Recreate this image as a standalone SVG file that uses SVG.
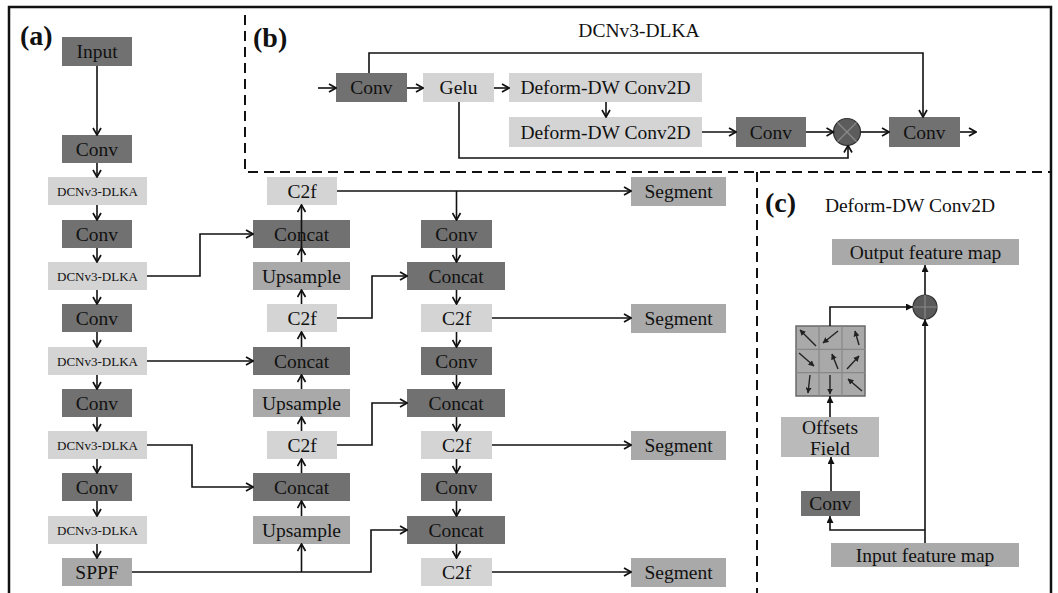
<svg xmlns="http://www.w3.org/2000/svg" width="1058" height="593" viewBox="0 0 1058 593">
<defs>
<style>
text{font-family:"Liberation Serif","Times New Roman",serif;fill:#111;text-anchor:middle}
.t{font-size:19.5px}
.s{font-size:13px}
.lab{font-size:28px;font-weight:bold;text-anchor:start}
.dk{fill:#717171}
.lt{fill:#d4d4d4}
.md{fill:#a9a9a9}
.of{fill:#bababa}
.ln{fill:none;stroke:#111;stroke-width:1.6}
.ar{fill:none;stroke:#111;stroke-width:1.6;marker-end:url(#chev)}
.ac{fill:none;stroke:#111;stroke-width:1.6;marker-end:url(#tri)}
.dash{fill:none;stroke:#111;stroke-width:2;stroke-dasharray:10 6}
.ga{stroke:#222;stroke-width:1.4;marker-end:url(#gtri)}
</style>
<marker id="chev" viewBox="0 0 10 10" refX="9" refY="5" markerWidth="10" markerHeight="10" markerUnits="userSpaceOnUse" orient="auto">
<path d="M2,1 L9,5 L2,9" fill="none" stroke="#111" stroke-width="1.7"/>
</marker>
<marker id="tri" viewBox="0 0 10 10" refX="10" refY="5" markerWidth="7" markerHeight="7" markerUnits="userSpaceOnUse" orient="auto">
<path d="M0,0 L10,5 L0,10 z" fill="#111"/>
</marker>
<marker id="gtri" viewBox="0 0 10 10" refX="9" refY="5" markerWidth="6" markerHeight="6" markerUnits="userSpaceOnUse" orient="auto">
<path d="M0,0 L10,5 L0,10 z" fill="#222"/>
</marker>
</defs>
<rect width="1058" height="593" fill="#ffffff"/>
<path d="M9,600 L9,7 L1051,7 L1051,600" fill="none" stroke="#111" stroke-width="2.5"/>
<g id="frames">
<path class="dash" d="M245,15 L245,172 L1051,172"/>
<path class="dash" d="M757,172 L757,593"/>
<text class="lab" x="20" y="45">(a)</text>
<text class="lab" x="253" y="47">(b)</text>
<text class="lab" x="765" y="212">(c)</text>
<text class="t" x="639" y="37">DCNv3-DLKA</text>
<text class="t" x="910" y="212">Deform-DW Conv2D</text>
</g>
<!-- panel (a) left column -->
<g id="a-input"><rect class="dk" x="62" y="37" width="70" height="29"/><text class="t" x="97" y="58">Input</text></g>
<g id="a-conv0"><rect class="dk" x="62" y="135" width="70" height="28"/><text class="t" x="97" y="155.5">Conv</text></g>
<g id="a-dlka1"><rect class="lt" x="48" y="177" width="99" height="28"/><text class="s" x="97.5" y="195.5">DCNv3-DLKA</text></g>
<g id="a-conv2"><rect class="dk" x="62" y="220" width="70" height="28"/><text class="t" x="97" y="240.5">Conv</text></g>
<g id="a-dlka3"><rect class="lt" x="48" y="262" width="99" height="28"/><text class="s" x="97.5" y="280.5">DCNv3-DLKA</text></g>
<g id="a-conv4"><rect class="dk" x="62" y="304" width="70" height="28"/><text class="t" x="97" y="324.5">Conv</text></g>
<g id="a-dlka5"><rect class="lt" x="48" y="347" width="99" height="28"/><text class="s" x="97.5" y="365.5">DCNv3-DLKA</text></g>
<g id="a-conv6"><rect class="dk" x="62" y="389" width="70" height="28"/><text class="t" x="97" y="409.5">Conv</text></g>
<g id="a-dlka7"><rect class="lt" x="48" y="431" width="99" height="28"/><text class="s" x="97.5" y="449.5">DCNv3-DLKA</text></g>
<g id="a-conv8"><rect class="dk" x="62" y="473" width="70" height="28"/><text class="t" x="97" y="493.5">Conv</text></g>
<g id="a-dlka9"><rect class="lt" x="48" y="516" width="99" height="28"/><text class="s" x="97.5" y="534.5">DCNv3-DLKA</text></g>
<g id="a-sppf"><rect class="md" x="62" y="558" width="70" height="28"/><text class="t" x="97" y="578.5">SPPF</text></g>
<!-- middle column -->
<g id="m-c2f1"><rect class="lt" x="267" y="177" width="70" height="28"/><text class="t" x="302" y="197.5">C2f</text></g>
<g id="m-concat2"><rect class="dk" x="253" y="220" width="97" height="28"/><text class="t" x="301.5" y="240.5">Concat</text></g>
<g id="m-up3"><rect class="md" x="253" y="262" width="97" height="28"/><text class="t" x="301.5" y="282.5">Upsample</text></g>
<g id="m-c2f4"><rect class="lt" x="267" y="304" width="70" height="28"/><text class="t" x="302" y="324.5">C2f</text></g>
<g id="m-concat5"><rect class="dk" x="253" y="347" width="97" height="28"/><text class="t" x="301.5" y="367.5">Concat</text></g>
<g id="m-up6"><rect class="md" x="253" y="389" width="97" height="28"/><text class="t" x="301.5" y="409.5">Upsample</text></g>
<g id="m-c2f7"><rect class="lt" x="267" y="431" width="70" height="28"/><text class="t" x="302" y="451.5">C2f</text></g>
<g id="m-concat8"><rect class="dk" x="253" y="473" width="97" height="28"/><text class="t" x="301.5" y="493.5">Concat</text></g>
<g id="m-up9"><rect class="md" x="253" y="516" width="97" height="28"/><text class="t" x="301.5" y="536.5">Upsample</text></g>
<!-- right column -->
<g id="r-conv2"><rect class="dk" x="421" y="220" width="71" height="28"/><text class="t" x="456.5" y="240.5">Conv</text></g>
<g id="r-concat3"><rect class="dk" x="407" y="262" width="98" height="28"/><text class="t" x="456" y="282.5">Concat</text></g>
<g id="r-c2f4"><rect class="lt" x="421" y="304" width="71" height="28"/><text class="t" x="456.5" y="324.5">C2f</text></g>
<g id="r-conv5"><rect class="dk" x="421" y="347" width="71" height="28"/><text class="t" x="456.5" y="367.5">Conv</text></g>
<g id="r-concat6"><rect class="dk" x="407" y="389" width="98" height="28"/><text class="t" x="456" y="409.5">Concat</text></g>
<g id="r-c2f7"><rect class="lt" x="421" y="431" width="71" height="28"/><text class="t" x="456.5" y="451.5">C2f</text></g>
<g id="r-conv8"><rect class="dk" x="421" y="473" width="71" height="28"/><text class="t" x="456.5" y="493.5">Conv</text></g>
<g id="r-concat9"><rect class="dk" x="407" y="516" width="98" height="28"/><text class="t" x="456" y="536.5">Concat</text></g>
<g id="r-c2f10"><rect class="lt" x="421" y="558" width="71" height="28"/><text class="t" x="456.5" y="578.5">C2f</text></g>
<!-- segment -->
<g id="seg1"><rect class="md" x="631" y="177" width="95" height="29"/><text class="t" x="678.5" y="198">Segment</text></g>
<g id="seg4"><rect class="md" x="631" y="304" width="95" height="29"/><text class="t" x="678.5" y="325">Segment</text></g>
<g id="seg7"><rect class="md" x="631" y="431" width="95" height="29"/><text class="t" x="678.5" y="452">Segment</text></g>
<g id="seg10"><rect class="md" x="631" y="558" width="95" height="29"/><text class="t" x="678.5" y="579">Segment</text></g>
<!-- panel (b) -->
<g id="b-conv"><rect class="dk" x="336" y="73" width="71" height="29"/><text class="t" x="371.5" y="94">Conv</text></g>
<g id="b-gelu"><rect class="lt" x="423" y="73" width="71" height="29"/><text class="t" x="458.5" y="94">Gelu</text></g>
<g id="b-deform1"><rect class="lt" x="509" y="73" width="193" height="29"/><text class="t" x="605.5" y="94">Deform-DW Conv2D</text></g>
<g id="b-deform2"><rect class="lt" x="509" y="117" width="193" height="30"/><text class="t" x="605.5" y="138.5">Deform-DW Conv2D</text></g>
<g id="b-conv2"><rect class="dk" x="736" y="117" width="70" height="30"/><text class="t" x="771" y="138.5">Conv</text></g>
<g id="b-mul"><circle cx="847" cy="132" r="13.5" fill="#5c5c5c" stroke="#333" stroke-width="1.2"/><path d="M837.5,122.5 L856.5,141.5 M856.5,122.5 L837.5,141.5" stroke="#8a8a8a" stroke-width="1.3"/></g>
<g id="b-conv3"><rect class="dk" x="889" y="117" width="71" height="30"/><text class="t" x="924.5" y="138.5">Conv</text></g>
<!-- panel (c) -->
<g id="c-out"><rect class="md" x="832" y="239" width="187" height="26"/><text class="t" x="925.5" y="258.5">Output feature map</text></g>
<g id="c-add"><circle cx="925" cy="307" r="12" fill="#5a5a5a" stroke="#333" stroke-width="1.2"/><path d="M913,307 L937,307 M925,295 L925,319" stroke="#888" stroke-width="1.2"/></g>
<g id="c-grid">
<rect x="796" y="326" width="69" height="70" fill="#a9a9a9" stroke="#6a6a6a" stroke-width="1.5"/>
<path d="M819,326 L819,396 M842,326 L842,396 M796,349.3 L865,349.3 M796,372.6 L865,372.6" stroke="#888" stroke-width="1.2"/>
<line class="ga" x1="816" y1="346" x2="800" y2="330"/>
<line class="ga" x1="838" y1="331" x2="823" y2="343"/>
<line class="ga" x1="859" y1="345" x2="855" y2="331"/>
<line class="ga" x1="799" y1="353" x2="814" y2="366"/>
<line class="ga" x1="838" y1="369" x2="832" y2="354"/>
<line class="ga" x1="847" y1="369" x2="859" y2="356"/>
<line class="ga" x1="810" y1="375" x2="808" y2="393"/>
<line class="ga" x1="830" y1="375" x2="830" y2="394"/>
<line class="ga" x1="862" y1="391" x2="848" y2="379"/>
</g>
<g id="c-offsets"><rect class="of" x="781" y="417" width="98" height="40"/><text class="t" x="830" y="433.5">Offsets</text><text class="t" x="830" y="455">Field</text></g>
<g id="c-conv"><rect class="dk" x="801" y="491" width="59" height="25"/><text class="t" x="830.5" y="510">Conv</text></g>
<g id="c-in"><rect class="md" x="831" y="543" width="188" height="24"/><text class="t" x="925" y="561.5">Input feature map</text></g>
<g id="connectors">
<path class="ar" d="M97,66 L97,135"/>
<path class="ar" d="M97,163 L97,177"/>
<path class="ar" d="M97,205 L97,220"/>
<path class="ar" d="M97,248 L97,262"/>
<path class="ar" d="M97,290 L97,304"/>
<path class="ar" d="M97,332 L97,347"/>
<path class="ar" d="M97,375 L97,389"/>
<path class="ar" d="M97,417 L97,431"/>
<path class="ar" d="M97,459 L97,473"/>
<path class="ar" d="M97,501 L97,516"/>
<path class="ar" d="M97,544 L97,558"/>
<path class="ar" d="M301.5,248 L301.5,205"/>
<path class="ar" d="M301.5,262 L301.5,248"/>
<path class="ar" d="M301.5,304 L301.5,290"/>
<path class="ar" d="M301.5,347 L301.5,332"/>
<path class="ar" d="M301.5,389 L301.5,375"/>
<path class="ar" d="M301.5,431 L301.5,417"/>
<path class="ar" d="M301.5,473 L301.5,459"/>
<path class="ar" d="M301.5,516 L301.5,501"/>
<path class="ar" d="M456.5,248 L456.5,262"/>
<path class="ar" d="M456.5,290 L456.5,304"/>
<path class="ar" d="M456.5,332 L456.5,347"/>
<path class="ar" d="M456.5,375 L456.5,389"/>
<path class="ar" d="M456.5,417 L456.5,431"/>
<path class="ar" d="M456.5,459 L456.5,473"/>
<path class="ar" d="M456.5,501 L456.5,516"/>
<path class="ar" d="M456.5,544 L456.5,558"/>
<path class="ar" d="M337,191 L631,191"/>
<path class="ar" d="M456.5,191 L456.5,220"/>
<path class="ar" d="M147,276 L200,276 L200,234 L253,234"/>
<path class="ar" d="M147,361 L253,361"/>
<path class="ar" d="M147,445 L192,445 L192,487 L253,487"/>
<path class="ar" d="M132,572 L371,572 L371,530 L407,530"/>
<path class="ar" d="M301.5,572 L301.5,544"/>
<path class="ar" d="M337,318 L372,318 L372,276 L407,276"/>
<path class="ar" d="M337,445 L372,445 L372,403 L407,403"/>
<path class="ar" d="M492,318 L631,318"/>
<path class="ar" d="M492,445 L631,445"/>
<path class="ar" d="M492,572 L631,572"/>
<path class="ar" d="M318,88 L336,88"/>
<path class="ar" d="M407,88 L423,88"/>
<path class="ar" d="M494,88 L509,88"/>
<path class="ar" d="M606,102 L606,117"/>
<path class="ar" d="M702,132 L736,132"/>
<path class="ar" d="M806,132 L833.5,132"/>
<path class="ar" d="M860.5,132 L889,132"/>
<path class="ar" d="M960,132 L976,132"/>
<path class="ar" d="M369,73 L369,53 L923,53 L923,117"/>
<path class="ar" d="M459,102 L459,158 L848,158 L848,145.5"/>
<path class="ac" d="M925,295 L925,265"/>
<path class="ac" d="M830,326 L830,307 L913,307"/>
<path class="ac" d="M830,417 L830,396"/>
<path class="ac" d="M831,491 L831,457"/>
<path class="ac" d="M925,543 L925,319"/>
<path class="ac" d="M925,530 L830,530 L830,516"/>
</g>
</svg>
